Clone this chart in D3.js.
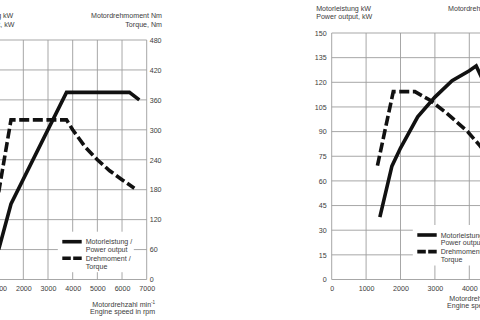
<!DOCTYPE html>
<html><head><meta charset="utf-8">
<script src="https://cdn.jsdelivr.net/npm/d3@7"></script>
<style>
body{margin:0;background:#fff}
svg{display:block}
text,tspan{font-family:"Liberation Sans",Arial,sans-serif;fill:#3c3c3c;font-size:7.1px}
</style>
</head><body>
<svg id="c" width="480" height="320"></svg>
<script>
// ---- Left chart (0-7000 rpm) ----
const rpmTicksA = [0,1000,2000,3000,4000,5000,6000,7000];
const torqueTicksA = [0,60,120,180,240,300,360,420,480];
const powerTicksA = [0,20,40,60,80,100,120,140,160];
const powerRpmA = [1000,1500,3750,6300,6700];
const powerA = [20,50.5,125,125,120];
const torqueRpmA = [1000,1500,3750,4000,4500,5000,5500,6000,6500];
const torqueA = [175,320,320,300,266,240,218,200,183];

// ---- Right chart (0-5000 rpm) ----
const rpmTicksB = [0,1000,2000,3000,4000,5000];
const powerTicksB = [0,15,30,45,60,75,90,105,120,135,150];
const torqueTicksB = [0,50,100,150,200,250,300,350,400,450,500];
const powerRpmB = [1400,1750,2000,2500,3000,3500,4000,4200,4400];
const powerB = [38,69,80,99,111,121,127,130,121];
const torqueRpmB = [1330,1790,2420,2850,3350,3950,4300,4500];
const torqueB = [231,381,381,364,337,300,272,255];

const legendLabels = [["Motorleistung /","Power output"],["Drehmoment /","Torque"]];
const titlePower = ["Motorleistung kW","Power output, kW"];
const titleTorque = ["Motordrehmoment Nm","Torque, Nm"];
const titleSpeed = ["Motordrehzahl min","Engine speed in rpm"];

const svg = d3.select("#c");
const FONT = '"Liberation Sans",Arial,sans-serif';

function chart(o){
  const x = d3.scaleLinear().domain([0, d3.max(o.rpmTicks)]).range(o.xr);
  const yP = d3.scaleLinear().domain([0, d3.max(o.powerTicks)]).range(o.yr);
  const yT = d3.scaleLinear().domain([0, d3.max(o.torqueTicks)]).range(o.yr);
  const g = svg.append("g");
  const grid = "#9d9d9d";
  // vertical grid
  g.selectAll(null).data(o.rpmTicks).enter().append("line")
    .attr("x1",d=>x(d)).attr("x2",d=>x(d)).attr("y1",o.yr[0]).attr("y2",o.yr[1])
    .attr("stroke",grid).attr("stroke-width",0.9);
  // horizontal grid
  const yG = o.visibleAxis==="right" ? yT : yP;
  const gTicks = o.visibleAxis==="right" ? o.torqueTicks : o.powerTicks;
  g.selectAll(null).data(gTicks).enter().append("line")
    .attr("y1",d=>yG(d)).attr("y2",d=>yG(d)).attr("x1",o.xr[0]).attr("x2",o.xr[1])
    .attr("stroke",grid).attr("stroke-width",0.9);

  // value axis that lies inside the picture, plus rpm axis
  let ga;
  if(o.visibleAxis==="right"){
    ga = g.append("g").attr("transform",`translate(${o.xr[1]},0)`)
      .call(d3.axisRight(yT).tickValues(o.torqueTicks).tickSize(0).tickPadding(3));
  } else {
    ga = g.append("g").attr("transform",`translate(${o.xr[0]},0)`)
      .call(d3.axisLeft(yP).tickValues(o.powerTicks).tickSize(0).tickPadding(5));
  }
  const gb = g.append("g").attr("transform",`translate(0,${o.yr[0]})`)
    .call(d3.axisBottom(x).tickValues(o.rpmTicks).tickSize(0).tickPadding(6).tickFormat(d3.format("d")));
  [ga,gb].forEach(s=>{s.select(".domain").remove(); s.selectAll("text").attr("fill","#3c3c3c").style("font-size","7.1px").style("font-family",FONT);});

  // titles
  const tl = g.append("text").attr("x",o.xr[0]-15.5).attr("y",o.titleY);
  titlePower.forEach((t,i)=>tl.append("tspan").attr("x",o.xr[0]-15.5).attr("dy",i?8.4:0).text(t));
  const tr = g.append("text").attr("text-anchor","end").attr("y",o.titleY);
  titleTorque.forEach((t,i)=>tr.append("tspan").attr("x",o.xr[1]+15.3).attr("dy",i?8.4:0).text(t));
  const ts = g.append("text").attr("text-anchor","end").attr("y",o.speedY);
  const t1 = ts.append("tspan").attr("x",o.xr[1]+8.5).text(titleSpeed[0]);
  t1.append("tspan").attr("dy",-2.6).style("font-size","4.6px").text("-1");
  ts.append("tspan").attr("x",o.xr[1]+8.5).attr("dy",10).text(titleSpeed[1]);

  // legend box
  const L = o.legend;
  g.append("rect").attr("x",L.x-4.5).attr("y",L.y-10).attr("width",76).attr("height",40.5).attr("fill","#fff");
  // curves
  const lineP = d3.line().x(d=>x(d[0])).y(d=>yP(d[1]));
  const lineT = d3.line().x(d=>x(d[0])).y(d=>yT(d[1]));
  g.append("path").datum(d3.zip(o.torqueRpm,o.torque)).attr("d",lineT)
    .attr("fill","none").attr("stroke","#111").attr("stroke-width",3.6).attr("stroke-dasharray","10,3.6").attr("stroke-linejoin","miter");
  g.append("path").datum(d3.zip(o.powerRpm,o.power)).attr("d",lineP)
    .attr("fill","none").attr("stroke","#111").attr("stroke-width",3.6).attr("stroke-linejoin","miter");

  // legend
  g.append("line").attr("x1",L.x).attr("x2",L.x+19.4).attr("y1",L.y).attr("y2",L.y).attr("stroke","#111").attr("stroke-width",3.6);
  g.append("line").attr("x1",L.x).attr("x2",L.x+19.4).attr("y1",L.y+16.6).attr("y2",L.y+16.6).attr("stroke","#111").attr("stroke-width",3.6).attr("stroke-dasharray","8.5,2.4");
  legendLabels.forEach((lab,i)=>{
    const t = g.append("text").attr("y",L.y+2.5+i*16.6);
    lab.forEach((s,j)=>t.append("tspan").attr("x",L.x+23.4).attr("dy",j?7.8:0).text(s));
  });
}

chart({visibleAxis:"right", xr:[-26,146.7], yr:[279.5,40],
  rpmTicks:rpmTicksA, powerTicks:powerTicksA, torqueTicks:torqueTicksA,
  powerRpm:powerRpmA, power:powerA, torqueRpm:torqueRpmA, torque:torqueA,
  titleY:18.3, speedY:306.8, legend:{x:62.3,y:241.7}});
chart({visibleAxis:"left", xr:[331.7,503.7], yr:[279.5,33],
  rpmTicks:rpmTicksB, powerTicks:powerTicksB, torqueTicks:torqueTicksB,
  powerRpm:powerRpmB, power:powerB, torqueRpm:torqueRpmB, torque:torqueB,
  titleY:10.9, speedY:300.8, legend:{x:417.3,y:235}});
</script>
</body></html>
